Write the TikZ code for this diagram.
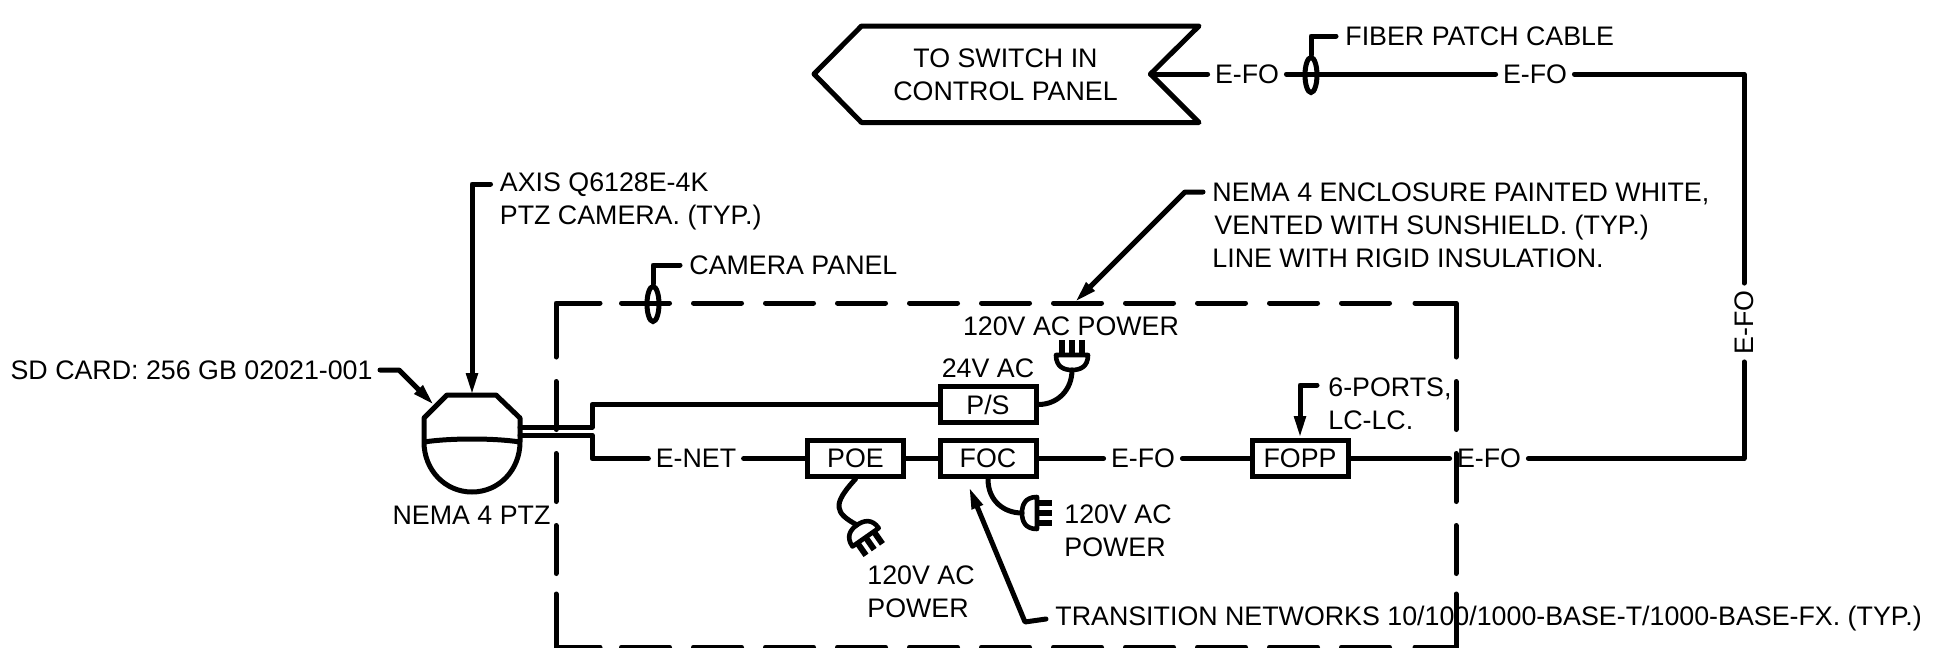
\documentclass[tikz,border=0pt]{standalone}
\usepackage{fontspec}
\setmainfont{Liberation Sans}
\usetikzlibrary{arrows.meta,positioning,shapes.geometric,calc}

\tikzset{
  wire/.style={line width=2.5pt, line cap=round, line join=round},
  leader/.style={wire, -{Stealth[length=11pt,width=5.5pt,inset=0pt]}},
  panel/.style={wire, dash pattern=on 24pt off 12pt},
  lbl/.style={font=\fontsize{13.4}{16.5}\selectfont, inner sep=0pt, align=left},
  tag/.style={lbl, inner xsep=3.5pt, inner ysep=1pt},
  note/.style={lbl, inner xsep=4.5pt, inner ysep=1pt},
  devbox/.style={draw, line width=2.5pt, minimum width=48pt, minimum height=18pt, inner sep=0pt, font=\fontsize{13.4}{16.5}\selectfont},
  ring/.style={draw, ellipse, line width=2.5pt, minimum width=6pt, minimum height=17.5pt, inner sep=0pt},
  plug/.pic={
    \draw[wire, line width=2.3pt] (-16,-15) .. controls (-16,-3) and (-8,0) .. (0,0) .. controls (8,0) and (16,-3) .. (16,-15) -- cycle;
    \foreach \p in {-10,0,10} \draw[line width=3pt] (\p,-15) -- (\p,-30);
  }
}

\begin{document}
\begin{tikzpicture}[x=0.5pt, y=-0.5pt]
  \useasboundingbox (0,0) rectangle (1935,648);

  % Camera
  \coordinate (camtop) at (472,395);
  \coordinate (camsd) at (434,405);
  \coordinate (camup) at (520,427);
  \coordinate (camlo) at (520,435);
  \draw[wire] (424,442) -- (424,418) -- (447,395) -- (496,395) -- (520,418) -- (520,442)
    .. controls (520,470) and (499,492) .. (472,492) .. controls (445,492) and (424,470) .. (424,442)
    .. controls (450,438) and (494,438) .. (520,442);
  \node[lbl] (camname) at (471.5,515) {NEMA 4 PTZ};

  % Camera panel
  \draw[wire] (556,357) |- (600,303);
  \draw[wire] (1415,303) -| (1456,357);
  \draw[wire] (556,594) |- (600,647);
  \draw[wire] (1415,647) -| (1456,594);
  \draw[panel] (621.5,303) -- (1392,303);
  \draw[panel] (621.5,647) -- (1392,647);
  \draw[panel] (556,381.5) -- (556,575);
  \draw[panel] (1456,381.5) -- (1456,575);
  \node[ring] (panelring) at (653,304) {};
  \node[note, anchor=west] (panelname) at (680,265) {CAMERA PANEL};
  \draw[wire] (panelring.north) |- (panelname.west);

  % Boxes
  \node[devbox] (ps) at (988,404.5) {P/S};
  \node[devbox] (poe) at (855.5,458.5) {POE};
  \node[devbox] (foc) at (988,458.5) {FOC};
  \node[devbox] (fopp) at (1300,458.5) {FOPP};
  \node[lbl] (ac24) at (988,368) {24V AC};

  % Camera to boxes
  \node[tag] (enet) at (696,458.5) {E-NET};
  \node[tag] (efoa) at (1143,458.5) {E-FO};
  \node[tag] (efob) at (1489,458.5) {E-FO};
  \draw[wire] (camup) -- (592,427) |- (ps.west);
  \draw[wire] (camlo) -- (592,435) |- (enet.west);
  \draw[wire] (enet.east) -- (poe.west);
  \draw[wire] (poe.east) -- (foc.west);
  \draw[wire] (foc.east) -- (efoa.west);
  \draw[wire] (efoa.east) -- (fopp.west);
  \draw[wire] (fopp.east) -- (efob.west);

  % Power plugs
  \coordinate (plugps) at (1072,370);
  \coordinate (plugfoc) at (1022,513);
  \coordinate (plugpoe) at (857,525);
  \pic[rotate=0] at (plugps) {plug};
  \pic[rotate=-90] at (plugfoc) {plug};
  \pic[rotate=-145] at (plugpoe) {plug};
  \draw[wire] (ps.east) .. controls +(19,0) and +(0,20) .. (plugps);
  \draw[wire] (foc.south) .. controls +(0,22) and +(-18,0) .. (plugfoc);
  \draw[wire] (poe.south) .. controls +(-24,26) and +(-22,-12) .. (plugpoe);
  \node[lbl] (acps) at (1071,326) {120V AC POWER};
  \node[lbl, anchor=west] (acfoc) at (1064,531) {120V AC\\POWER};
  \node[lbl, anchor=west] (acpoe) at (867,591.5) {120V AC\\POWER};

  % Run to control panel
  \coordinate (efotop) at (1744,74);
  \coordinate (efobot) at (1744,458.5);
  \coordinate (notch) at (1150.5,74);
  \node[tag, rotate=90] (efoc) at (1744,322.5) {E-FO};
  \node[tag] (efod) at (1535,74) {E-FO};
  \node[tag] (efoe) at (1247,74) {E-FO};
  \node[ring] (fiberring) at (1311,75) {};
  \draw[wire] (efob.east) -- (efobot) -- (efoc.west);
  \draw[wire] (efoc.east) -- (efotop) -- (efod.east);
  \draw[wire] (efod.west) -- (efoe.east);
  \draw[wire] (efoe.west) -- (notch);
  \node[note, anchor=west] (fibername) at (1336,36) {FIBER PATCH CABLE};
  \draw[wire] (fiberring.north) |- (fibername.west);

  % Control panel flag
  \draw[wire] (814,74) -- (861.5,26) -- (1199,26) -- (notch) -- (1199,122.5) -- (861.5,122.5) -- cycle;
  \node[lbl, align=center] (tosw) at (1005.5,74.5) {TO SWITCH IN\\CONTROL PANEL};

  % Notes
  \node[tag, anchor=east] (sdnote) at (380,370) {SD CARD: 256 GB 02021-001};
  \draw[leader] (sdnote.east) -- (399,370) -- (camsd);
  \node[lbl, anchor=north west] (axisnote) at (499.5,172.5) {AXIS Q6128E-4K\\PTZ CAMERA. (TYP.)};
  \coordinate (axisend) at (490.5,184);
  \draw[leader] (axisend) -| (camtop);
  \node[lbl, anchor=north west] (nemanote) at (1212,182.5) {NEMA 4 ENCLOSURE PAINTED WHITE,\\\hspace{1pt}VENTED WITH SUNSHIELD. (TYP.)\\LINE WITH RIGID INSULATION.};
  \coordinate (nemaend) at (1203,192);
  \coordinate (nematip) at (1075,302);
  \draw[leader] (nemaend) -- (1185,192) -- (nematip);
  \node[lbl, anchor=north west] (portsnote) at (1328,377.5) {6-PORTS,\\LC-LC.};
  \coordinate (portsend) at (1317,385);
  \draw[leader] (portsend) -| (fopp.north);
  \node[note, anchor=west] (focnote) at (1046,619) {TRANSITION NETWORKS 10/100/1000-BASE-T/1000-BASE-FX. (TYP.)};
  \coordinate (focknee) at (1025,622);
  \coordinate (foctip) at (969,487);
  \draw[leader] (focnote.west) -- (focknee) -- (foctip);
\end{tikzpicture}
\end{document}
